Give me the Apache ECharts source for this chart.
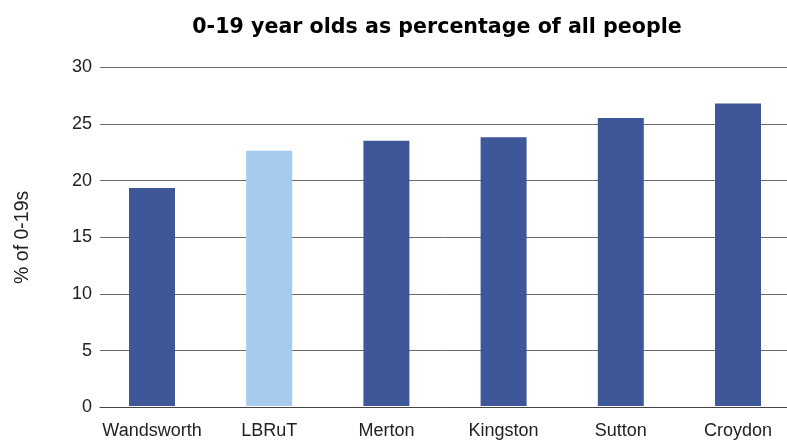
<!DOCTYPE html>
<html><head><meta charset="utf-8">
<script src="https://cdn.jsdelivr.net/npm/echarts@6/dist/echarts.min.js"></script>
<style>html,body{margin:0;padding:0;background:#fff}#c{width:787px;height:440px}</style>
</head><body><div id="c"></div>
<script>
const categories = ['Wandsworth', 'LBRuT', 'Merton', 'Kingston', 'Sutton', 'Croydon'];
const values = [19.3, 22.6, 23.5, 23.8, 25.5, 26.8];
const highlight = [false, true, false, false, false, false];
const yTicks = { min: 0, max: 30, interval: 5 };
const titleText = '0-19 year olds as percentage of all people';
const yName = '% of 0-19s';

const DARK = '#3D5799', LIGHT = '#A6CBEE';
const font = 'Liberation Sans, Arial, Helvetica, sans-serif';
const chart = echarts.init(document.getElementById('c'), null, { renderer: 'canvas' });
chart.setOption({
  animation: false,
  title: { text: titleText, left: 432, top: 12, textAlign: 'center',
    textStyle: { fontFamily: 'DejaVu Sans', fontWeight: 'bold', fontSize: 20.6, color: '#000' } },
  grid: [
    { left: 100, right: 0, top: 67.3, bottom: 32.7, containLabel: false },
    { left: 152, right: 49, top: 67.3, bottom: 32.7, containLabel: false }
  ],
  xAxis: [
    { gridIndex: 0, type: 'value', min: 0, max: 1, show: true,
      axisLine: { show: true, onZero: false, lineStyle: { color: '#444', width: 1 } },
      axisTick: { show: false }, axisLabel: { show: false }, splitLine: { show: false } },
    { gridIndex: 1, type: 'category', data: categories, boundaryGap: false,
      axisLine: { show: false }, axisTick: { show: false },
      axisLabel: { interval: 0, margin: 16, fontFamily: font, fontSize: 18, color: '#222' } }
  ],
  yAxis: [
    { gridIndex: 0, type: 'value', min: yTicks.min, max: yTicks.max, interval: yTicks.interval,
      name: yName, nameLocation: 'middle', nameGap: 67, nameRotate: 90,
      nameTextStyle: { fontFamily: font, fontSize: 19.5, color: '#222' },
      axisLine: { show: false }, axisTick: { show: false },
      axisLabel: { margin: 8, fontFamily: font, fontSize: 18, color: '#222' },
      splitLine: { show: true, lineStyle: { color: '#6a6a6a', width: 1 } } },
    { gridIndex: 1, type: 'value', min: yTicks.min, max: yTicks.max, interval: yTicks.interval,
      show: false, splitLine: { show: false } }
  ],
  series: [{
    type: 'bar', xAxisIndex: 1, yAxisIndex: 1, barWidth: 46,
    data: values.map((v, i) => ({ value: v, itemStyle: { color: highlight[i] ? LIGHT : DARK } }))
  }]
});
</script></body></html>
